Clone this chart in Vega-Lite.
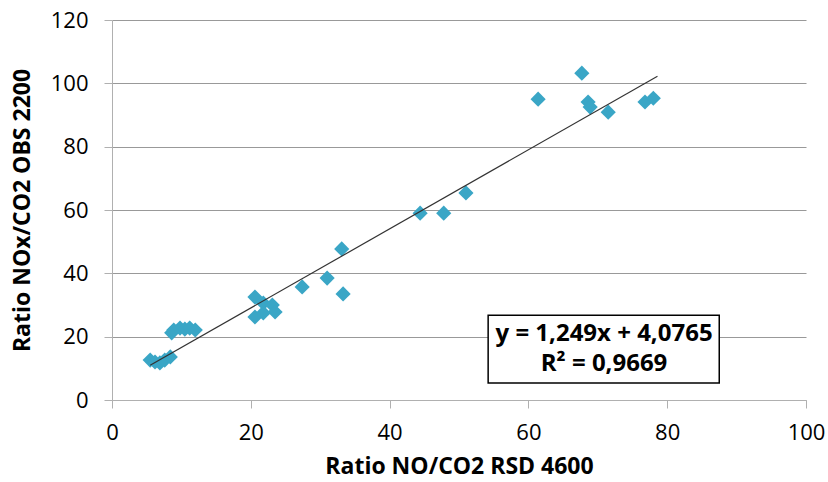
{
  "$schema": "https://vega.github.io/schema/vega-lite/v6.json",
  "autosize": {"type": "none"},
  "width": 694,
  "height": 380,
  "padding": {"left": 112, "top": 20, "right": 22, "bottom": 82},
  "background": "white",
  "config": {
    "font": "Open Sans",
    "view": {"stroke": null},
    "axis": {
      "labelFontSize": 22,
      "labelColor": "#000000",
      "labelFlush": false,
      "labelOverlap": false,
      "titleFontSize": 23,
      "titleFontWeight": "bold",
      "titleColor": "#000000",
      "domainColor": "#b0b0b0",
      "tickColor": "#b0b0b0",
      "gridColor": "#999999",
      "tickSize": 8
    }
  },
  "datasets": {
    "pts": [
      {"x": 5.5, "y": 12.6}, {"x": 6.2, "y": 12.0}, {"x": 6.9, "y": 11.7}, {"x": 7.6, "y": 12.6}, {"x": 8.4, "y": 13.6},
      {"x": 8.6, "y": 21.2}, {"x": 8.9, "y": 22.1}, {"x": 9.8, "y": 22.7}, {"x": 10.5, "y": 22.4}, {"x": 11.2, "y": 22.7}, {"x": 12.0, "y": 22.1},
      {"x": 20.6, "y": 32.5}, {"x": 21.8, "y": 30.6}, {"x": 23.1, "y": 30.0}, {"x": 23.5, "y": 27.8}, {"x": 20.6, "y": 26.2}, {"x": 21.8, "y": 27.5},
      {"x": 27.4, "y": 35.7}, {"x": 31.0, "y": 38.5}, {"x": 33.1, "y": 47.7}, {"x": 33.3, "y": 33.5},
      {"x": 44.4, "y": 59.0}, {"x": 47.8, "y": 59.0}, {"x": 51.0, "y": 65.4},
      {"x": 61.4, "y": 95.0}, {"x": 67.7, "y": 103.2}, {"x": 68.6, "y": 94.1}, {"x": 68.9, "y": 92.5}, {"x": 71.5, "y": 90.9},
      {"x": 76.8, "y": 94.1}, {"x": 78.0, "y": 95.3}
    ],
    "trend": [
      {"x": 5.5, "y": 10.95},
      {"x": 78.6, "y": 102.25}
    ],
    "box": [
      {"x1": 54.2, "x2": 87.5, "y1": 5.4, "y2": 26.8}
    ],
    "labels": [
      {"x": 70.9, "y": 21.0, "t": "y = 1,249x + 4,0765"},
      {"x": 70.9, "y": 11.5, "t": "R² = 0,9669"}
    ]
  },
  "layer": [
    {
      "data": {"name": "pts"},
      "mark": {"type": "point", "shape": "diamond", "filled": true, "size": 230, "color": "#3aa6c6", "opacity": 1},
      "encoding": {
        "x": {
          "field": "x", "type": "quantitative",
          "scale": {"domain": [0, 100], "nice": false},
          "axis": {"values": [0, 20, 40, 60, 80, 100], "grid": false, "title": "Ratio NO/CO2 RSD 4600", "labelPadding": 14, "titlePadding": 12}
        },
        "y": {
          "field": "y", "type": "quantitative",
          "scale": {"domain": [0, 120], "nice": false},
          "axis": {"values": [0, 20, 40, 60, 80, 100, 120], "grid": true, "title": "Ratio NOx/CO2 OBS 2200", "labelPadding": 16, "titlePadding": 16}
        }
      }
    },
    {
      "data": {"name": "trend"},
      "mark": {"type": "line", "color": "#333333", "strokeWidth": 1.2},
      "encoding": {
        "x": {"field": "x", "type": "quantitative"},
        "y": {"field": "y", "type": "quantitative"}
      }
    },
    {
      "data": {"name": "box"},
      "mark": {"type": "rect", "fill": "white", "stroke": "black", "strokeWidth": 1.5},
      "encoding": {
        "x": {"field": "x1", "type": "quantitative"},
        "x2": {"field": "x2"},
        "y": {"field": "y1", "type": "quantitative"},
        "y2": {"field": "y2"}
      }
    },
    {
      "data": {"name": "labels"},
      "mark": {"type": "text", "fontSize": 24, "fontWeight": "bold", "color": "black", "align": "center", "baseline": "middle"},
      "encoding": {
        "x": {"field": "x", "type": "quantitative"},
        "y": {"field": "y", "type": "quantitative"},
        "text": {"field": "t"}
      }
    }
  ]
}
